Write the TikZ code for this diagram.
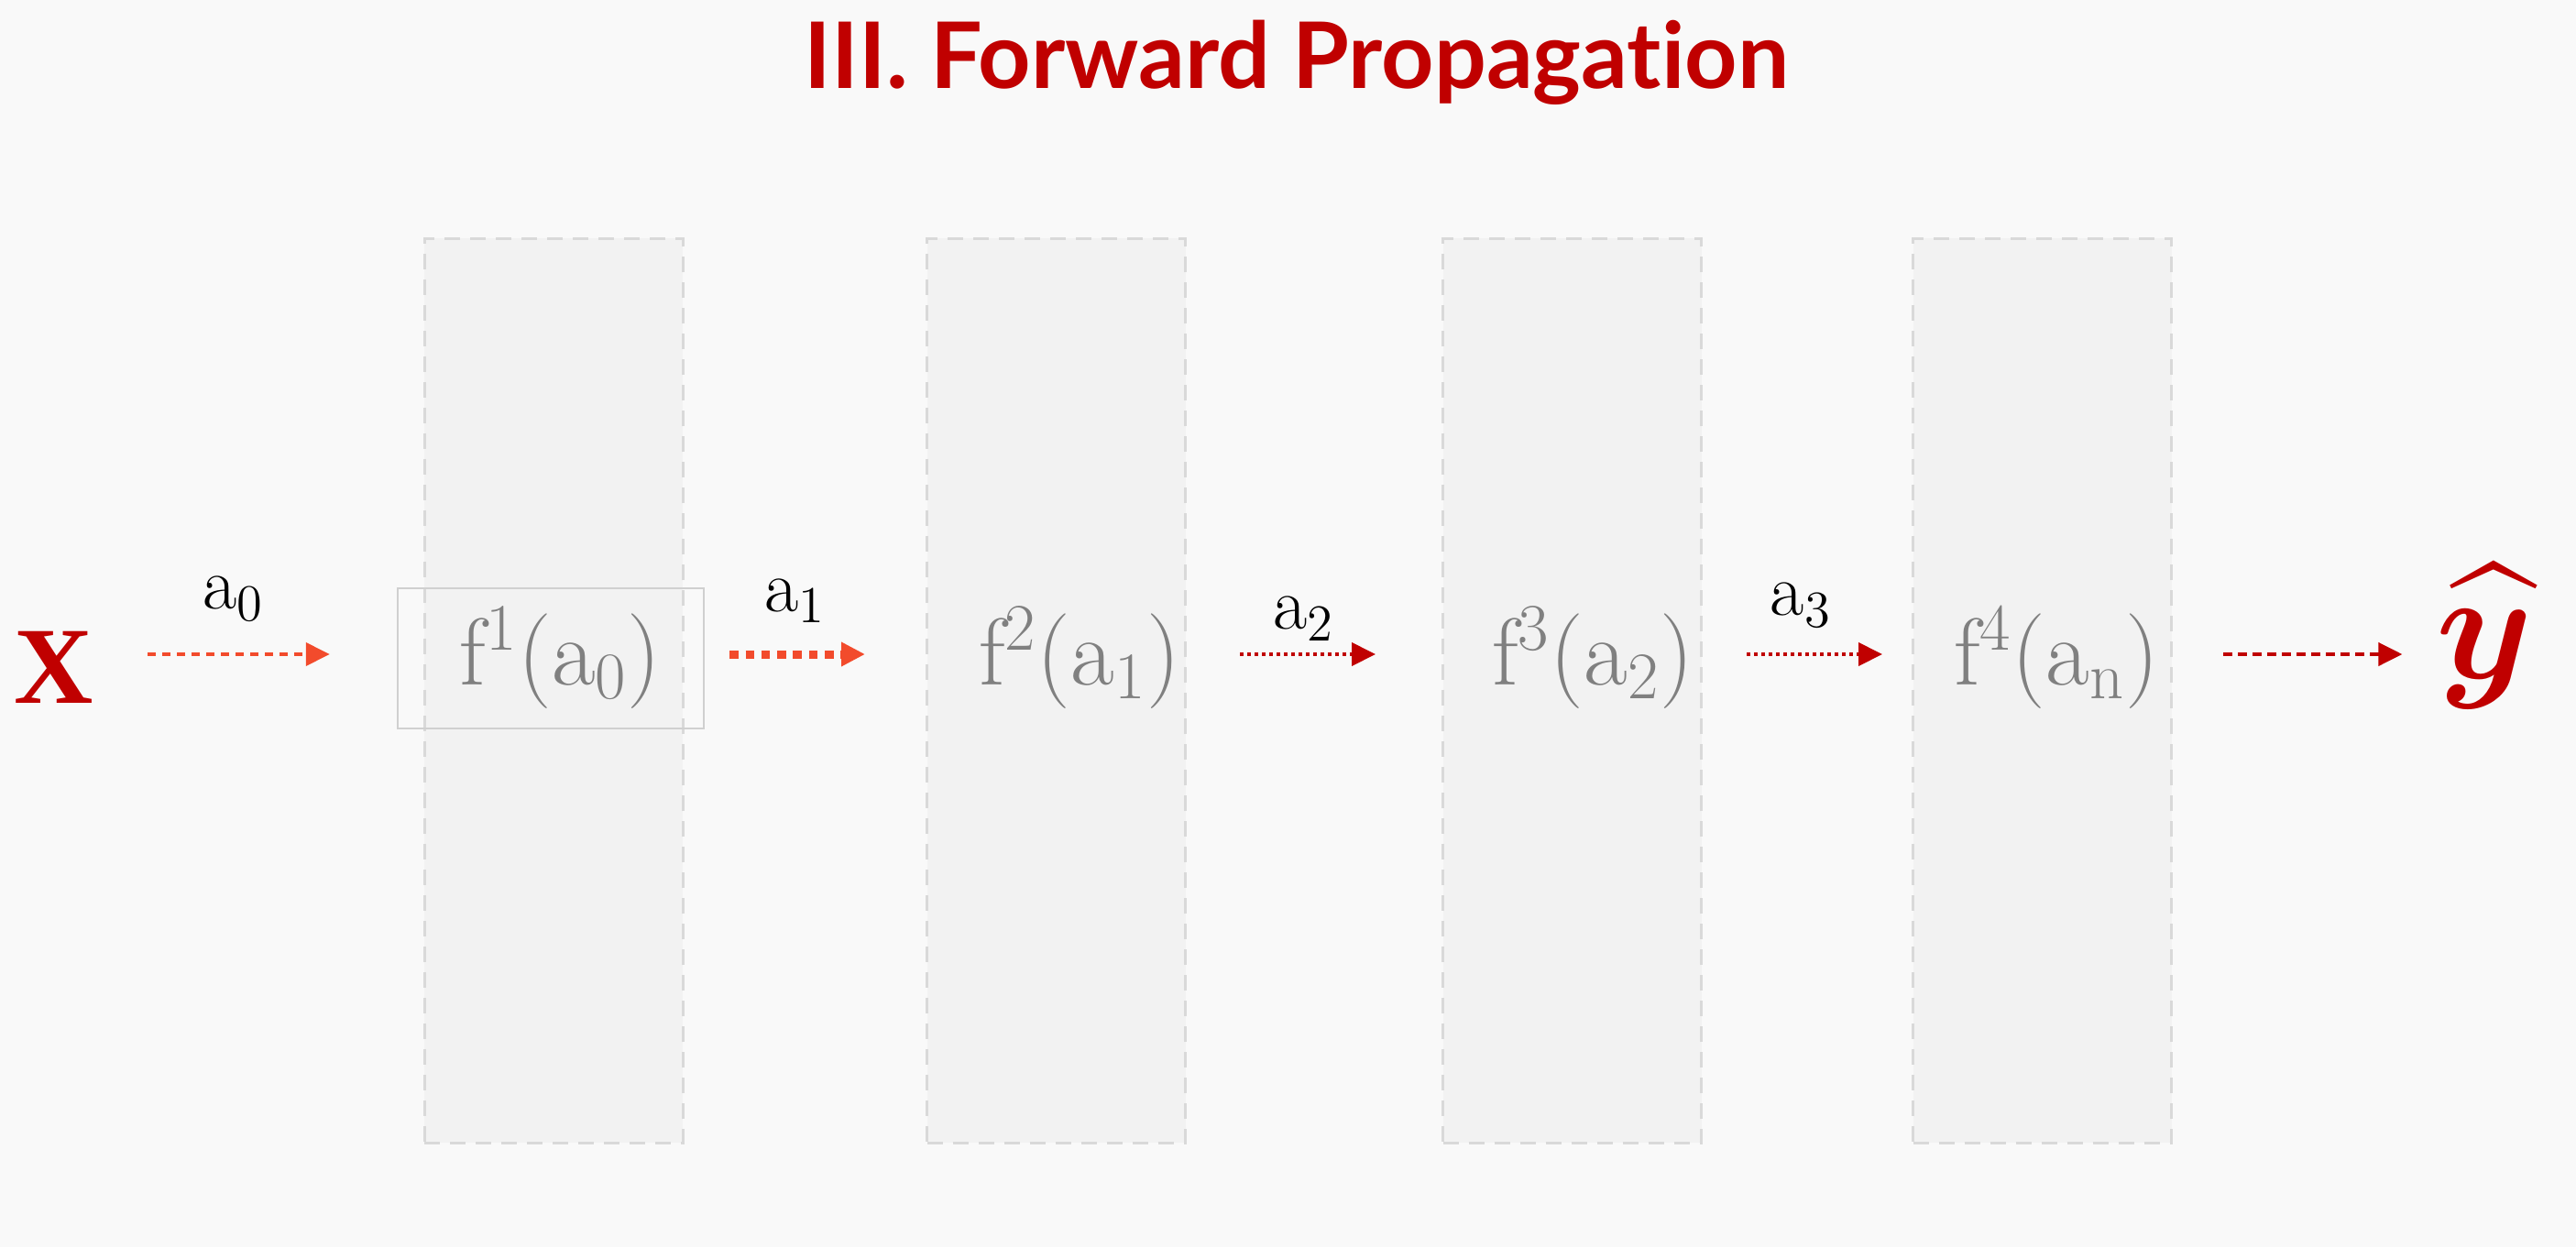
\RequirePackage{fix-cm}
\documentclass[tikz,border=0pt]{standalone}
\usepackage{amsmath, amssymb, bm}
\usepackage{fontspec}
\newfontfamily\titlefont{Lato}[Ligatures={NoCommon}]
\newfontfamily\serifb{Liberation Serif}
\usepackage{xcolor}
\usetikzlibrary{arrows.meta, positioning, calc}

\definecolor{bgc}{HTML}{F9F9F9}
\definecolor{layerfill}{HTML}{F2F2F2}
\definecolor{layerline}{HTML}{D9D9D9}
\definecolor{boxline}{HTML}{D0D0D0}
\definecolor{ftgray}{HTML}{808080}
\definecolor{deepred}{HTML}{C00000}
\definecolor{orng}{HTML}{F24B2C}

\begin{document}
\begin{tikzpicture}[
  layer/.style={draw=layerline, fill=layerfill, line width=0.03cm, dash pattern=on 0.17cm off 0.11cm,
    minimum width=2.82cm, minimum height=9.87cm, inner sep=0},
  ftxt/.style={text=ftgray, font=\fontsize{29.5}{35}\selectfont, anchor=base, inner sep=0},
  lbl/.style={font=\fontsize{23}{28}\selectfont, inner sep=0},
  fwd/.style={-{Triangle[length=0.26cm, width=0.25cm]}},
  orangedash/.style={fwd, draw=orng, line width=0.04cm, dash pattern=on 0.09cm off 0.07cm},
  orangedot/.style={fwd, draw=orng, line width=0.09cm, dash pattern=on 0.095cm off 0.078cm},
  reddot/.style={fwd, draw=deepred, line width=0.04cm, dash pattern=on 0.04cm off 0.04cm},
  reddash/.style={fwd, draw=deepred, line width=0.04cm, dash pattern=on 0.1cm off 0.06cm}
]
\fill[bgc] (0,0) rectangle (28.11,13.61);
\useasboundingbox (0,0) rectangle (28.11,13.61);

\node[anchor=base, text=deepred, font=\titlefont\bfseries\fontsize{28.5}{34}\selectfont] (title) at (14.15,12.65) {III. Forward Propagation};

% layers
\node[layer] (L1) at (6.04,6.075) {};
\node[layer] (L2) at (11.525,6.075) {};
\node[layer] (L3) at (17.155,6.075) {};
\node[layer] (L4) at (22.285,6.075) {};
\node[draw=boxline, line width=0.025cm, minimum width=3.34cm, minimum height=1.53cm, inner sep=0] (f1) at (6.01,6.425) {};

\node[ftxt] (t1) at (6.115,6.14) {$\mathrm{f}^1(\mathrm{a}_0)$};
\node[ftxt] (t2) at (11.78,6.14) {$\mathrm{f}^2(\mathrm{a}_1)$};
\node[ftxt] (t3) at (17.38,6.14) {$\mathrm{f}^3(\mathrm{a}_2)$};
\node[ftxt] (t4) at (22.44,6.14) {$\mathrm{f}^4(\mathrm{a}_\mathrm{n})$};

% input and output
\node[inner sep=0, anchor=base, text=deepred, font=\serifb\bfseries\fontsize{34}{40}\selectfont] (X) at (0.585,5.94) {X};
\node[inner sep=0, anchor=base, text=deepred, font=\fontsize{48}{56}\selectfont] (yh) at (27.11,6.21) {$\widehat{\bm{y}}$};

\coordinate (ax) at (0,6.47);

\draw[orangedash, shorten <=0.59cm, shorten >=0.73cm] (X.east |- ax) -- node[lbl, above=0.35cm, pos=0.46] {$\mathrm{a}_0$} (f1.west |- ax);
\draw[orangedot, shorten <=0.27cm, shorten >=0.66cm] (f1.east |- ax) -- node[lbl, above=0.30cm, pos=0.41] {$\mathrm{a}_1$} (L2.west |- ax);
\draw[reddot, shorten <=0.58cm, shorten >=0.72cm] (L2.east |- ax) -- node[lbl, above=0.13cm, pos=0.46] {$\mathrm{a}_2$} (L3.west |- ax);
\draw[reddot, shorten <=0.48cm, shorten >=0.32cm] (L3.east |- ax) -- node[lbl, above=0.28cm, pos=0.47] {$\mathrm{a}_3$} (L4.west |- ax);
\draw[reddash, shorten <=0.55cm, shorten >=0.36cm] (L4.east |- ax) -- (yh.west |- ax);
\end{tikzpicture}
\end{document}
